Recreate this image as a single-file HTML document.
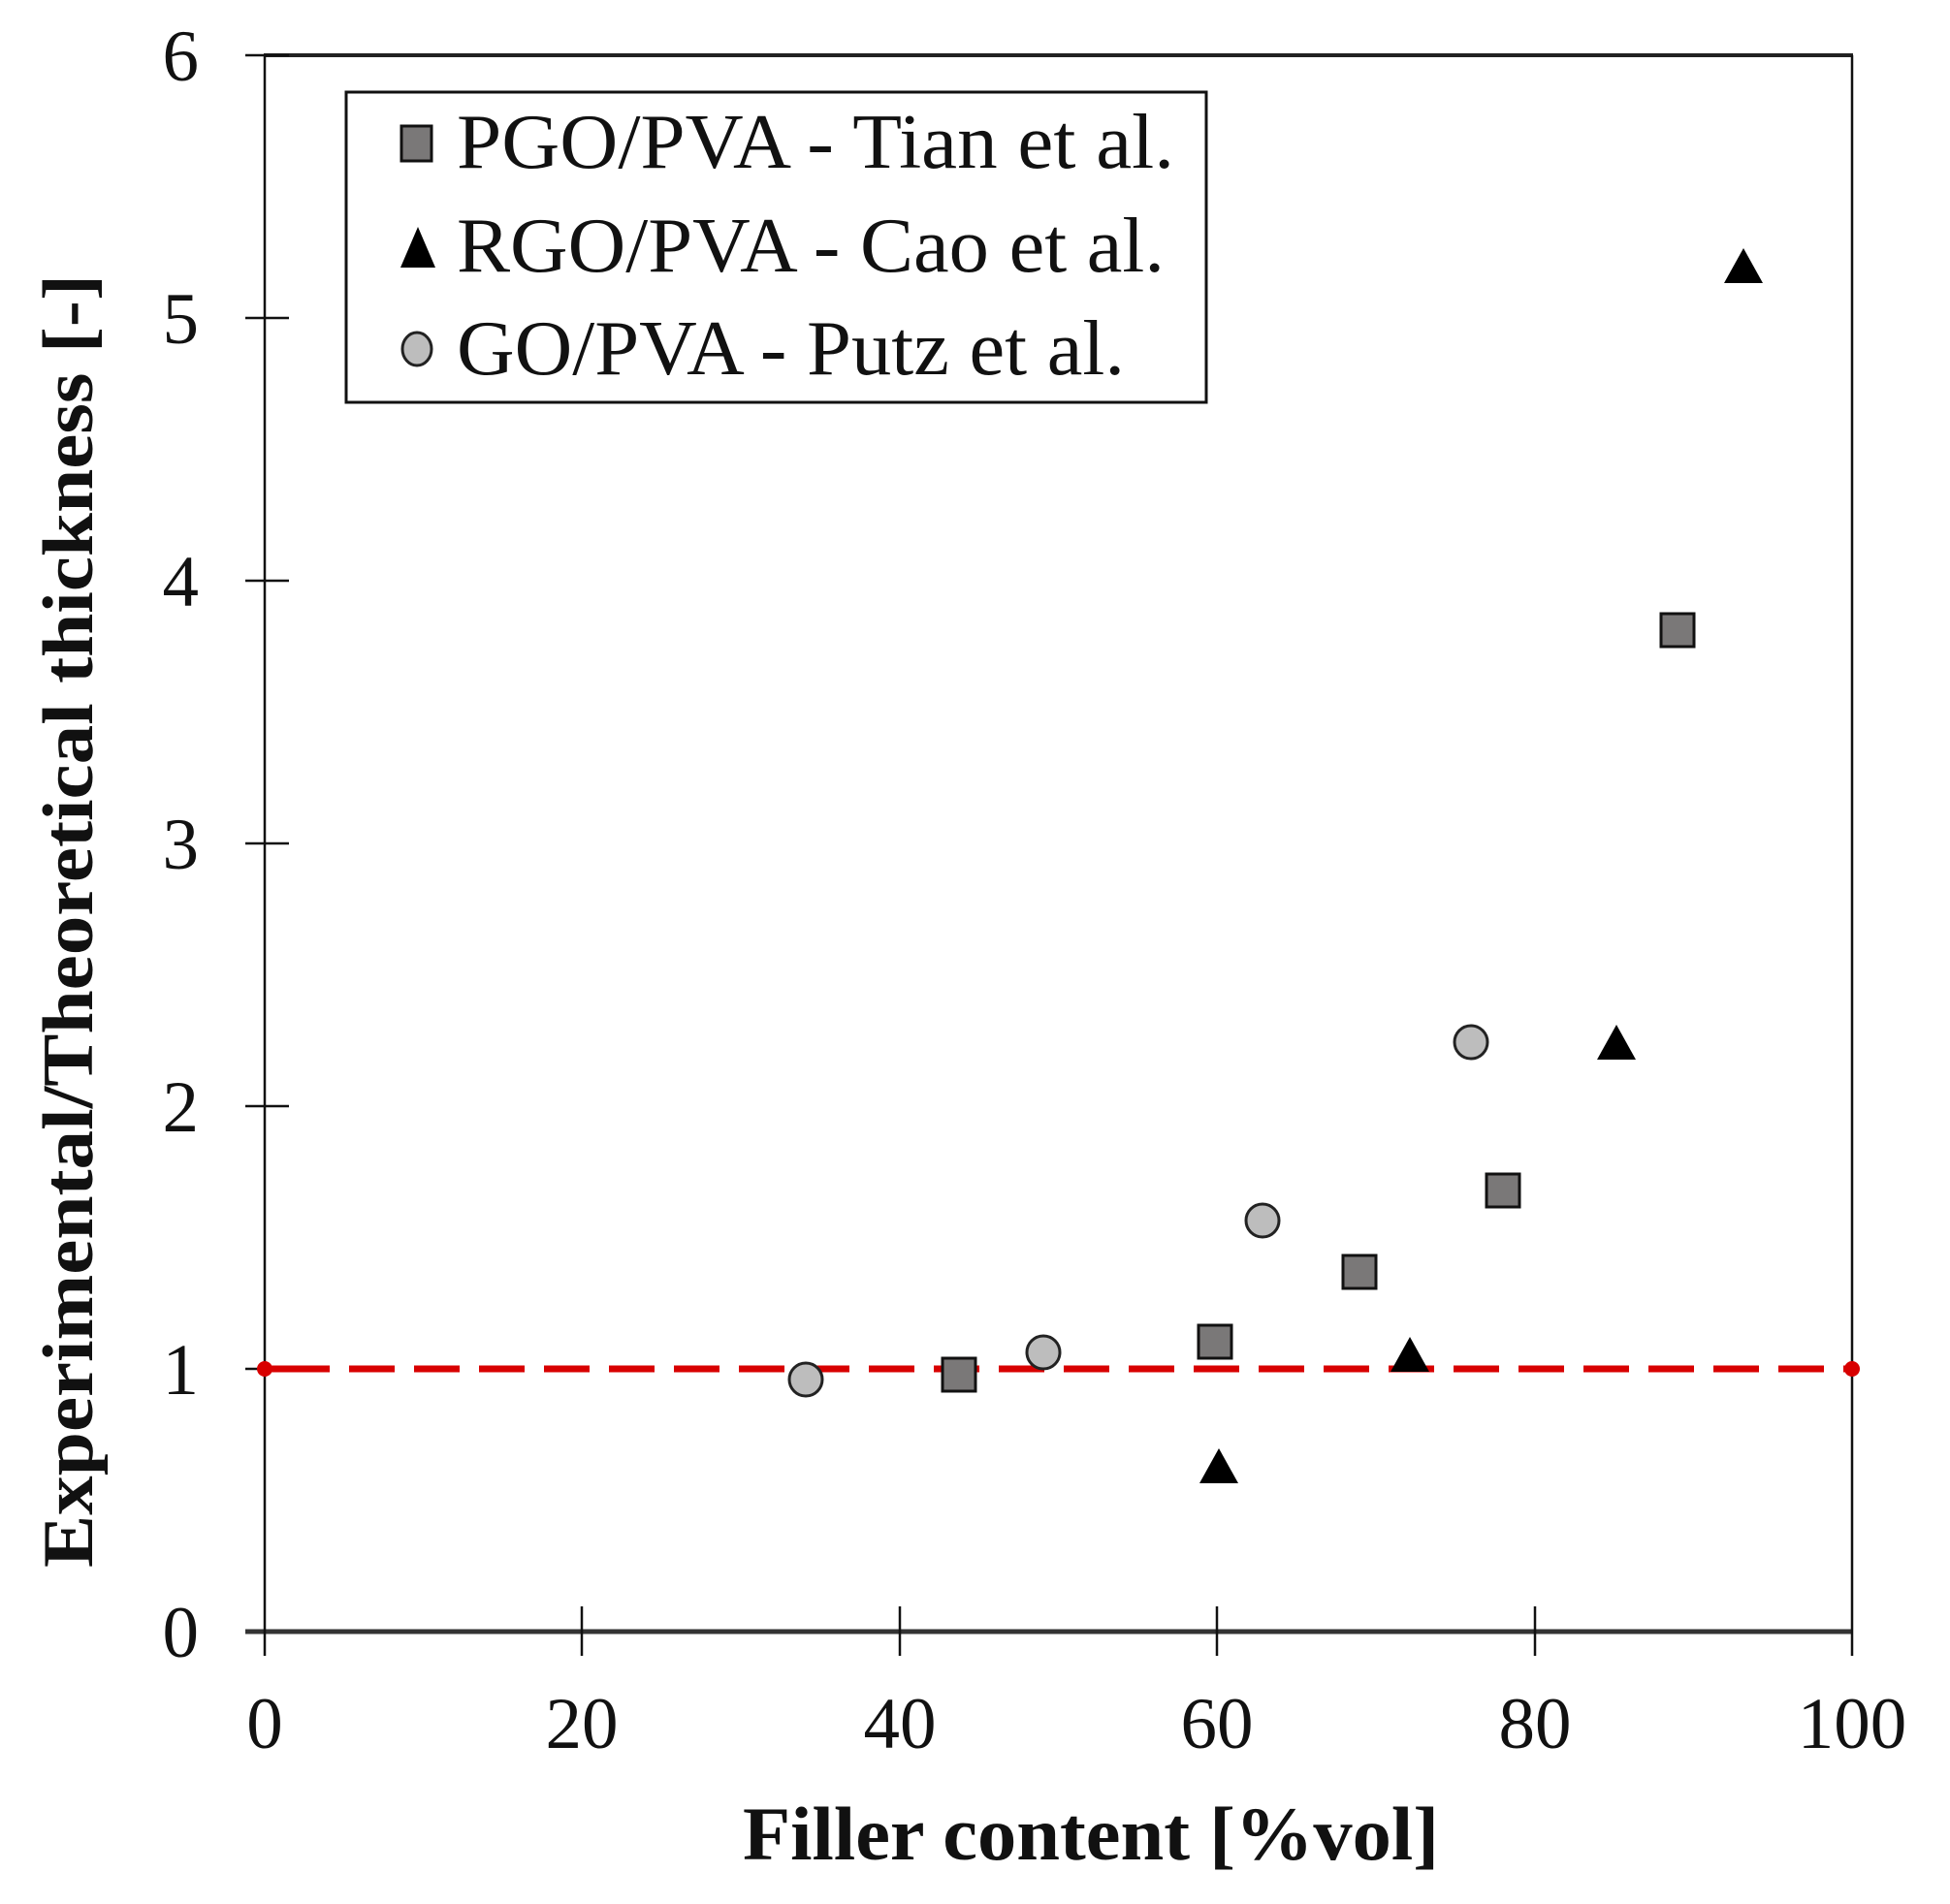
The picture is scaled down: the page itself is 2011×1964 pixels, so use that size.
<!DOCTYPE html>
<html><head><meta charset="utf-8"><style>html,body{margin:0;padding:0;background:#fff}svg{display:block}</style></head>
<body>
<svg width="2011" height="1964" viewBox="0 0 2011 1964" xmlns="http://www.w3.org/2000/svg" font-family="Liberation Serif, serif">
<rect width="2011" height="1964" fill="#fff"/>
<line x1="272" y1="57" x2="1911" y2="57" stroke="#222" stroke-width="4"/>
<line x1="253" y1="1683" x2="1911" y2="1683" stroke="#333" stroke-width="5"/>
<line x1="273" y1="57" x2="273" y2="1708" stroke="#111" stroke-width="2.5"/>
<line x1="1910" y1="57" x2="1910" y2="1708" stroke="#111" stroke-width="2.5"/>
<g stroke="#111" stroke-width="2.5">
<line x1="253" y1="57" x2="298" y2="57"/>
<line x1="253" y1="328" x2="298" y2="328"/>
<line x1="253" y1="599" x2="298" y2="599"/>
<line x1="253" y1="870" x2="298" y2="870"/>
<line x1="253" y1="1141" x2="298" y2="1141"/>
<line x1="253" y1="1412" x2="298" y2="1412"/>
<line x1="600" y1="1657" x2="600" y2="1708"/>
<line x1="928" y1="1657" x2="928" y2="1708"/>
<line x1="1255" y1="1657" x2="1255" y2="1708"/>
<line x1="1583" y1="1657" x2="1583" y2="1708"/>
</g>
<g font-size="75" text-anchor="end" fill="#111">
<text x="205" y="83">6</text>
<text x="205" y="354">5</text>
<text x="205" y="625">4</text>
<text x="205" y="896">3</text>
<text x="205" y="1167">2</text>
<text x="205" y="1438">1</text>
<text x="205" y="1709">0</text>
</g>
<g font-size="75" text-anchor="middle" fill="#111">
<text x="273" y="1803">0</text>
<text x="600" y="1803">20</text>
<text x="928" y="1803">40</text>
<text x="1255" y="1803">60</text>
<text x="1583" y="1803">80</text>
<text x="1910" y="1803">100</text>
</g>
<text x="1125" y="1918" font-size="78" font-weight="bold" text-anchor="middle" textLength="718" lengthAdjust="spacingAndGlyphs" fill="#111">Filler content [%vol]</text>
<text transform="translate(95,950) rotate(-90)" font-size="74" font-weight="bold" text-anchor="middle" textLength="1334" lengthAdjust="spacingAndGlyphs" fill="#111">Experimental/Theoretical thickness [-]</text>
<line x1="273" y1="1412" x2="1910" y2="1412" stroke="#d80000" stroke-width="7" stroke-dasharray="47 20" stroke-dashoffset="-20"/>
<line x1="273" y1="1412" x2="320" y2="1412" stroke="#d80000" stroke-width="7"/>
<circle cx="273" cy="1412" r="8" fill="#d80000"/>
<circle cx="1910" cy="1412" r="8" fill="#d80000"/>
<g fill="#bdbdbd" stroke="#222" stroke-width="3">
<circle cx="831" cy="1423" r="17"/>
<circle cx="1076" cy="1395" r="17"/>
<circle cx="1302" cy="1259" r="17"/>
<circle cx="1517" cy="1075" r="17"/>
</g>
<g fill="#7a7878" stroke="#111" stroke-width="3">
<rect x="972" y="1401" width="34" height="34"/>
<rect x="1236" y="1367" width="34" height="34"/>
<rect x="1385" y="1295" width="34" height="34"/>
<rect x="1533" y="1211" width="34" height="34"/>
<rect x="1713" y="633" width="34" height="34"/>
</g>
<g fill="#000">
<polygon points="1257,1494 1277,1530 1237,1530"/>
<polygon points="1454,1379 1474,1415 1434,1415"/>
<polygon points="1667,1057 1687,1093 1647,1093"/>
<polygon points="1798,256 1818,292 1778,292"/>
</g>
<rect x="357" y="95" width="887" height="320" fill="#fff" stroke="#111" stroke-width="3"/>
<rect x="414" y="130" width="31" height="36" fill="#7a7878" stroke="#111" stroke-width="3"/>
<polygon points="431,234 449,276 413,276" fill="#000"/>
<ellipse cx="430" cy="360" rx="15" ry="17" fill="#bdbdbd" stroke="#222" stroke-width="3"/>
<g font-size="80" fill="#111">
<text x="471" y="173" textLength="740" lengthAdjust="spacingAndGlyphs">PGO/PVA - Tian et al.</text>
<text x="471" y="280" textLength="730" lengthAdjust="spacingAndGlyphs">RGO/PVA - Cao et al.</text>
<text x="471" y="386" textLength="689" lengthAdjust="spacingAndGlyphs">GO/PVA - Putz et al.</text>
</g>
</svg>
</body></html>
